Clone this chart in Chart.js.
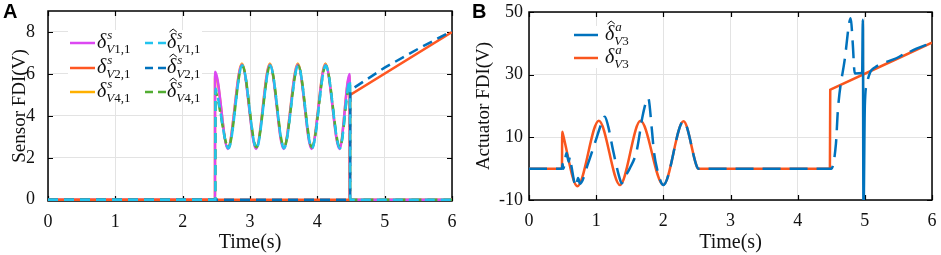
<!DOCTYPE html>
<html>
<head>
<meta charset="utf-8">
<script src="https://cdn.jsdelivr.net/npm/chart.js@4.4.1/dist/chart.umd.min.js"></script>
<style>
  body { margin: 0; background: #fff; }
  #wrap { position: relative; width: 941px; height: 255px; overflow: hidden; }
  canvas { position: absolute; top: 0; }
  .tag { position: absolute; top: 0; font: bold 20px "Liberation Sans", Arial, sans-serif; color: #000; }
</style>
</head>
<body>
<div id="wrap">
  <canvas id="chartA" width="470" height="255" style="left:0"></canvas>
  <canvas id="chartB" width="471" height="255" style="left:470px"></canvas>
  <div class="tag" style="left:3px">A</div>
  <div class="tag" style="left:472px">B</div>
</div>
<script>
// ticks
const X_TICKS = [0, 1, 2, 3, 4, 5, 6];
const A_Y_TICKS = [0, 2, 4, 6, 8];
const B_Y_TICKS = [-10, 10, 30, 50];

// panel A - sensor FDI (time s, value V)
const tV1 = [0, 2.48, 2.481, 2.67, 2.88, 3.09, 3.295, 3.50, 3.71, 3.915, 4.12, 4.33, 4.48, 4.481, 6];
const yV1 = [0, 0, 6.1, 2.42, 6.45, 2.42, 6.45, 2.42, 6.45, 2.42, 6.45, 2.42, 6.0, 0, 0];
const tV2 = [0, 4.485, 4.487, 6];
const yV2 = [0, 0, 5.0, 8.0];
const tV4 = [0, 2.48, 2.481, 2.67, 2.88, 3.09, 3.295, 3.50, 3.71, 3.915, 4.12, 4.33, 4.48, 4.481, 6];
const yV4 = [0, 0, 6.0, 2.48, 6.5, 2.48, 6.5, 2.48, 6.5, 2.48, 6.5, 2.48, 5.9, 0, 0];
const tV1h = [0, 2.485, 2.487, 2.52, 2.68, 2.885, 3.095, 3.30, 3.505, 3.715, 3.92, 4.125, 4.335, 4.485, 4.487, 6];
const yV1h = [0, 0, 5.3, 4.9, 2.45, 6.4, 2.45, 6.4, 2.45, 6.4, 2.45, 6.4, 2.45, 5.7, 0, 0];
const tV2h = [0, 4.487, 4.49, 4.55, 5.0, 5.5, 6];
const yV2h = [0, 0, 5.1, 5.35, 6.3, 7.2, 8.05];
const tV4h = [0, 2.485, 2.487, 2.52, 2.68, 2.885, 3.095, 3.30, 3.505, 3.715, 3.92, 4.125, 4.335, 4.485, 4.487, 6];
const yV4h = [0, 0, 5.2, 4.8, 2.5, 6.4, 2.5, 6.4, 2.5, 6.4, 2.5, 6.4, 2.5, 5.6, 0, 0];

// panel B - actuator FDI
const tVa = [0, 0.49, 0.495, 0.50, 0.72, 1.04, 1.354, 1.66, 2.0, 2.30, 2.50, 2.52, 4.48, 4.485, 4.49, 4.495, 6];
const yVa = [0, 0, 11.8, 11.4, -5.6, 15.3, -5.2, 15.3, -5.2, 15.1, 0.6, 0, 0, 25.2, 25.25, 25.3, 40.2];
const tVah = [0, 0.49, 0.50, 0.51, 0.56, 0.59, 0.61, 0.63, 0.70, 0.73, 0.76, 0.88, 0.98, 1.08, 1.13, 1.18, 1.25, 1.35, 1.38, 1.43, 1.50, 1.60, 1.70, 1.775, 1.83, 1.86, 1.91, 2.0, 2.30, 2.50, 2.52, 4.50, 4.57, 4.60, 4.70, 4.79, 4.82, 4.85, 4.96, 4.97, 4.98, 5.00, 5.03, 5.08, 5.15, 5.55, 5.60, 5.64, 5.68, 6];
const yVah = [0, 0, 1.5, 0, 5.0, 2.2, 3.8, 1.0, -5.7, -3.0, -4.8, 1.7, 8.1, 14.5, 16.6, 13.4, 6.0, -3.1, -4.7, -2.6, 0.1, 5.4, 17.7, 22.5, 12.3, 5.4, -0.4, -5.2, 15.1, 0.6, 0, 0, 8, 19, 34.7, 48, 40, 30.4, 30.5, 47.5, -15, 20, 27, 30.8, 32.3, 36.2, 37.2, 36.8, 37.4, 40.2];
// time window where the estimate trace is drawn solid (the spike near 5 s)
const B_SOLID = [4.96, 5.0];

const SERIF = '"Liberation Serif", "Times New Roman", serif';
const TXT = '#111';
const GRID = '#e3e3e3';

function pts(ts, ys) {
    return ts.map((t, i) => ({ x: t, y: ys[i] }));
}

// axes box with inward ticks, drawn under the data
const framePlugin = {
    id: 'frame',
    beforeDatasetsDraw(chart) {
        const { ctx, chartArea: a, scales: { x, y } } = chart;
        ctx.save();
        ctx.strokeStyle = '#000';
        ctx.lineWidth = 1.5;
        ctx.strokeRect(a.left, a.top, a.right - a.left, a.bottom - a.top);
        ctx.lineWidth = 1.2;
        ctx.beginPath();
        x.ticks.forEach(t => {
            const px = Math.round(x.getPixelForValue(t.value)) + 0.5;
            ctx.moveTo(px, a.bottom); ctx.lineTo(px, a.bottom - 5);
            ctx.moveTo(px, a.top); ctx.lineTo(px, a.top + 5);
        });
        y.ticks.forEach(t => {
            const py = Math.round(y.getPixelForValue(t.value)) + 0.5;
            ctx.moveTo(a.left, py); ctx.lineTo(a.left + 5, py);
            ctx.moveTo(a.right, py); ctx.lineTo(a.right - 5, py);
        });
        ctx.stroke();
        ctx.restore();
    }
};

// δ with optional hat, superscript and subscript
function drawDelta(ctx, x, y, hat, sup, sub) {
    ctx.fillStyle = TXT;
    ctx.textBaseline = 'alphabetic';
    ctx.textAlign = 'left';
    ctx.font = 'italic 20px ' + SERIF;
    ctx.fillText('δ', x, y + 5);
    const w = ctx.measureText('δ').width;
    if (hat) {
        ctx.strokeStyle = TXT;
        ctx.lineWidth = 1;
        ctx.beginPath();
        ctx.moveTo(x + 2.5, y - 11);
        ctx.lineTo(x + w / 2 + 1.5, y - 14);
        ctx.lineTo(x + w + 0.5, y - 11);
        ctx.stroke();
    }
    ctx.font = 'italic 13px ' + SERIF;
    ctx.fillText(sup, x + w + 1, y - 4);
    ctx.fillText('V', x + w, y + 10);
    const vw = ctx.measureText('V').width;
    ctx.font = '13px ' + SERIF;
    ctx.fillText(sub, x + w + vw, y + 10);
}

const legendPlugin = {
    id: 'mathLegend',
    afterDatasetsDraw(chart, args, opts) {
        const ctx = chart.ctx;
        ctx.save();
        ctx.fillStyle = '#fff';
        ctx.fillRect(opts.box[0], opts.box[1], opts.box[2], opts.box[3]);
        opts.items.forEach(it => {
            ctx.strokeStyle = it.color;
            ctx.lineWidth = 2.5;
            ctx.setLineDash(it.dash || []);
            ctx.beginPath();
            ctx.moveTo(it.x0, it.y);
            ctx.lineTo(it.x1, it.y);
            ctx.stroke();
            ctx.setLineDash([]);
            drawDelta(ctx, it.tx, it.y, it.hat, it.sup, it.sub);
        });
        ctx.restore();
    }
};

function axisX(height) {
    return {
        type: 'linear', min: 0, max: 6,
        afterBuildTicks: s => { s.ticks = X_TICKS.map(v => ({ value: v })); },
        afterFit: s => { s.height = height; s.paddingLeft = 0; s.paddingRight = 0; },
        grid: { color: GRID, drawTicks: false },
        border: { display: false },
        ticks: { font: { family: SERIF, size: 18 }, color: TXT, padding: 10 },
        title: { display: true, text: 'Time(s)', font: { family: SERIF, size: 20 }, color: TXT, padding: { top: 0, bottom: 0 } }
    };
}

function axisY(min, max, tickVals, width, pad, title, titlePad) {
    return {
        type: 'linear', min: min, max: max,
        afterBuildTicks: s => { s.ticks = tickVals.map(v => ({ value: v })); },
        afterFit: s => { s.width = width; s.paddingTop = 0; s.paddingBottom = 0; },
        grid: { color: GRID, drawTicks: false },
        border: { display: false },
        ticks: { font: { family: SERIF, size: 18 }, color: TXT, padding: pad },
        title: { display: true, text: title, font: { family: SERIF, size: 19 }, color: TXT, padding: { top: titlePad, bottom: 0 } }
    };
}

function line(label, ts, ys, color, dash, order, smooth) {
    return {
        label: label,
        data: pts(ts, ys),
        borderColor: color,
        borderWidth: 2.5,
        borderDash: dash,
        pointRadius: 0,
        fill: false,
        order: order,
        cubicInterpolationMode: smooth ? 'monotone' : 'default',
        tension: 0
    };
}

const baseOpts = {
    responsive: false,
    animation: false,
    events: []
};

// panel A
new Chart(document.getElementById('chartA'), {
    type: 'line',
    data: {
        datasets: [
            line('δV1,1', tV1, yV1, '#dc48f2', [], 4, true),
            line('δV2,1', tV2, yV2, '#ff5722', [], 3, false),
            line('δV4,1', tV4, yV4, '#ffb000', [], 5, true),
            line('δ̂V1,1', tV1h, yV1h, '#22c3ee', [10, 6], 0, true),
            line('δ̂V2,1', tV2h, yV2h, '#0072bd', [10, 6], 1, false),
            line('δ̂V4,1', tV4h, yV4h, '#52ad32', [10, 6], 2, true)
        ]
    },
    options: {
        ...baseOpts,
        layout: { padding: { top: 11, right: 18, left: 0, bottom: 0 } },
        scales: {
            x: axisX(54),
            y: axisY(-0.06, 9, A_Y_TICKS, 48, 13, 'Sensor FDI(V)', 9)
        },
        plugins: {
            legend: { display: false },
            tooltip: { enabled: false },
            mathLegend: {
                box: [68, 30, 134, 67],
                items: [
                    { x0: 70, x1: 95, y: 43, tx: 97, color: '#dc48f2', hat: false, sup: 's', sub: '1,1' },
                    { x0: 70, x1: 95, y: 68, tx: 97, color: '#ff5722', hat: false, sup: 's', sub: '2,1' },
                    { x0: 70, x1: 95, y: 92, tx: 97, color: '#ffb000', hat: false, sup: 's', sub: '4,1' },
                    { x0: 145, x1: 166, y: 43, tx: 167, color: '#22c3ee', dash: [8, 5], hat: true, sup: 's', sub: '1,1' },
                    { x0: 145, x1: 166, y: 68, tx: 167, color: '#0072bd', dash: [8, 5], hat: true, sup: 's', sub: '2,1' },
                    { x0: 145, x1: 166, y: 92, tx: 167, color: '#52ad32', dash: [8, 5], hat: true, sup: 's', sub: '4,1' }
                ]
            }
        }
    },
    plugins: [framePlugin, legendPlugin]
});

// panel B
const estB = line('δ̂aV3', tVah, yVah, '#0072bd', [18, 9], 0, true);
estB.segment = {
    borderDash: c => (c.p0.parsed.x >= B_SOLID[0] && c.p1.parsed.x <= B_SOLID[1]) ? [] : undefined
};

new Chart(document.getElementById('chartB'), {
    type: 'line',
    data: {
        datasets: [
            estB,
            line('δaV3', tVa, yVa, '#f9561e', [], 1, true)
        ]
    },
    options: {
        ...baseOpts,
        layout: { padding: { top: 12, right: 9, left: 0, bottom: 0 } },
        scales: {
            x: axisX(55),
            y: axisY(-10, 50, B_Y_TICKS, 59, 6, 'Actuator FDI(V)', 3)
        },
        plugins: {
            legend: { display: false },
            tooltip: { enabled: false },
            mathLegend: {
                box: [100, 26, 64, 42],
                items: [
                    { x0: 104, x1: 128, y: 35, tx: 135, color: '#0072bd', hat: true, sup: 'a', sub: '3' },
                    { x0: 104, x1: 128, y: 58, tx: 135, color: '#f9561e', hat: false, sup: 'a', sub: '3' }
                ]
            }
        }
    },
    plugins: [framePlugin, legendPlugin]
});
</script>
</body>
</html>
